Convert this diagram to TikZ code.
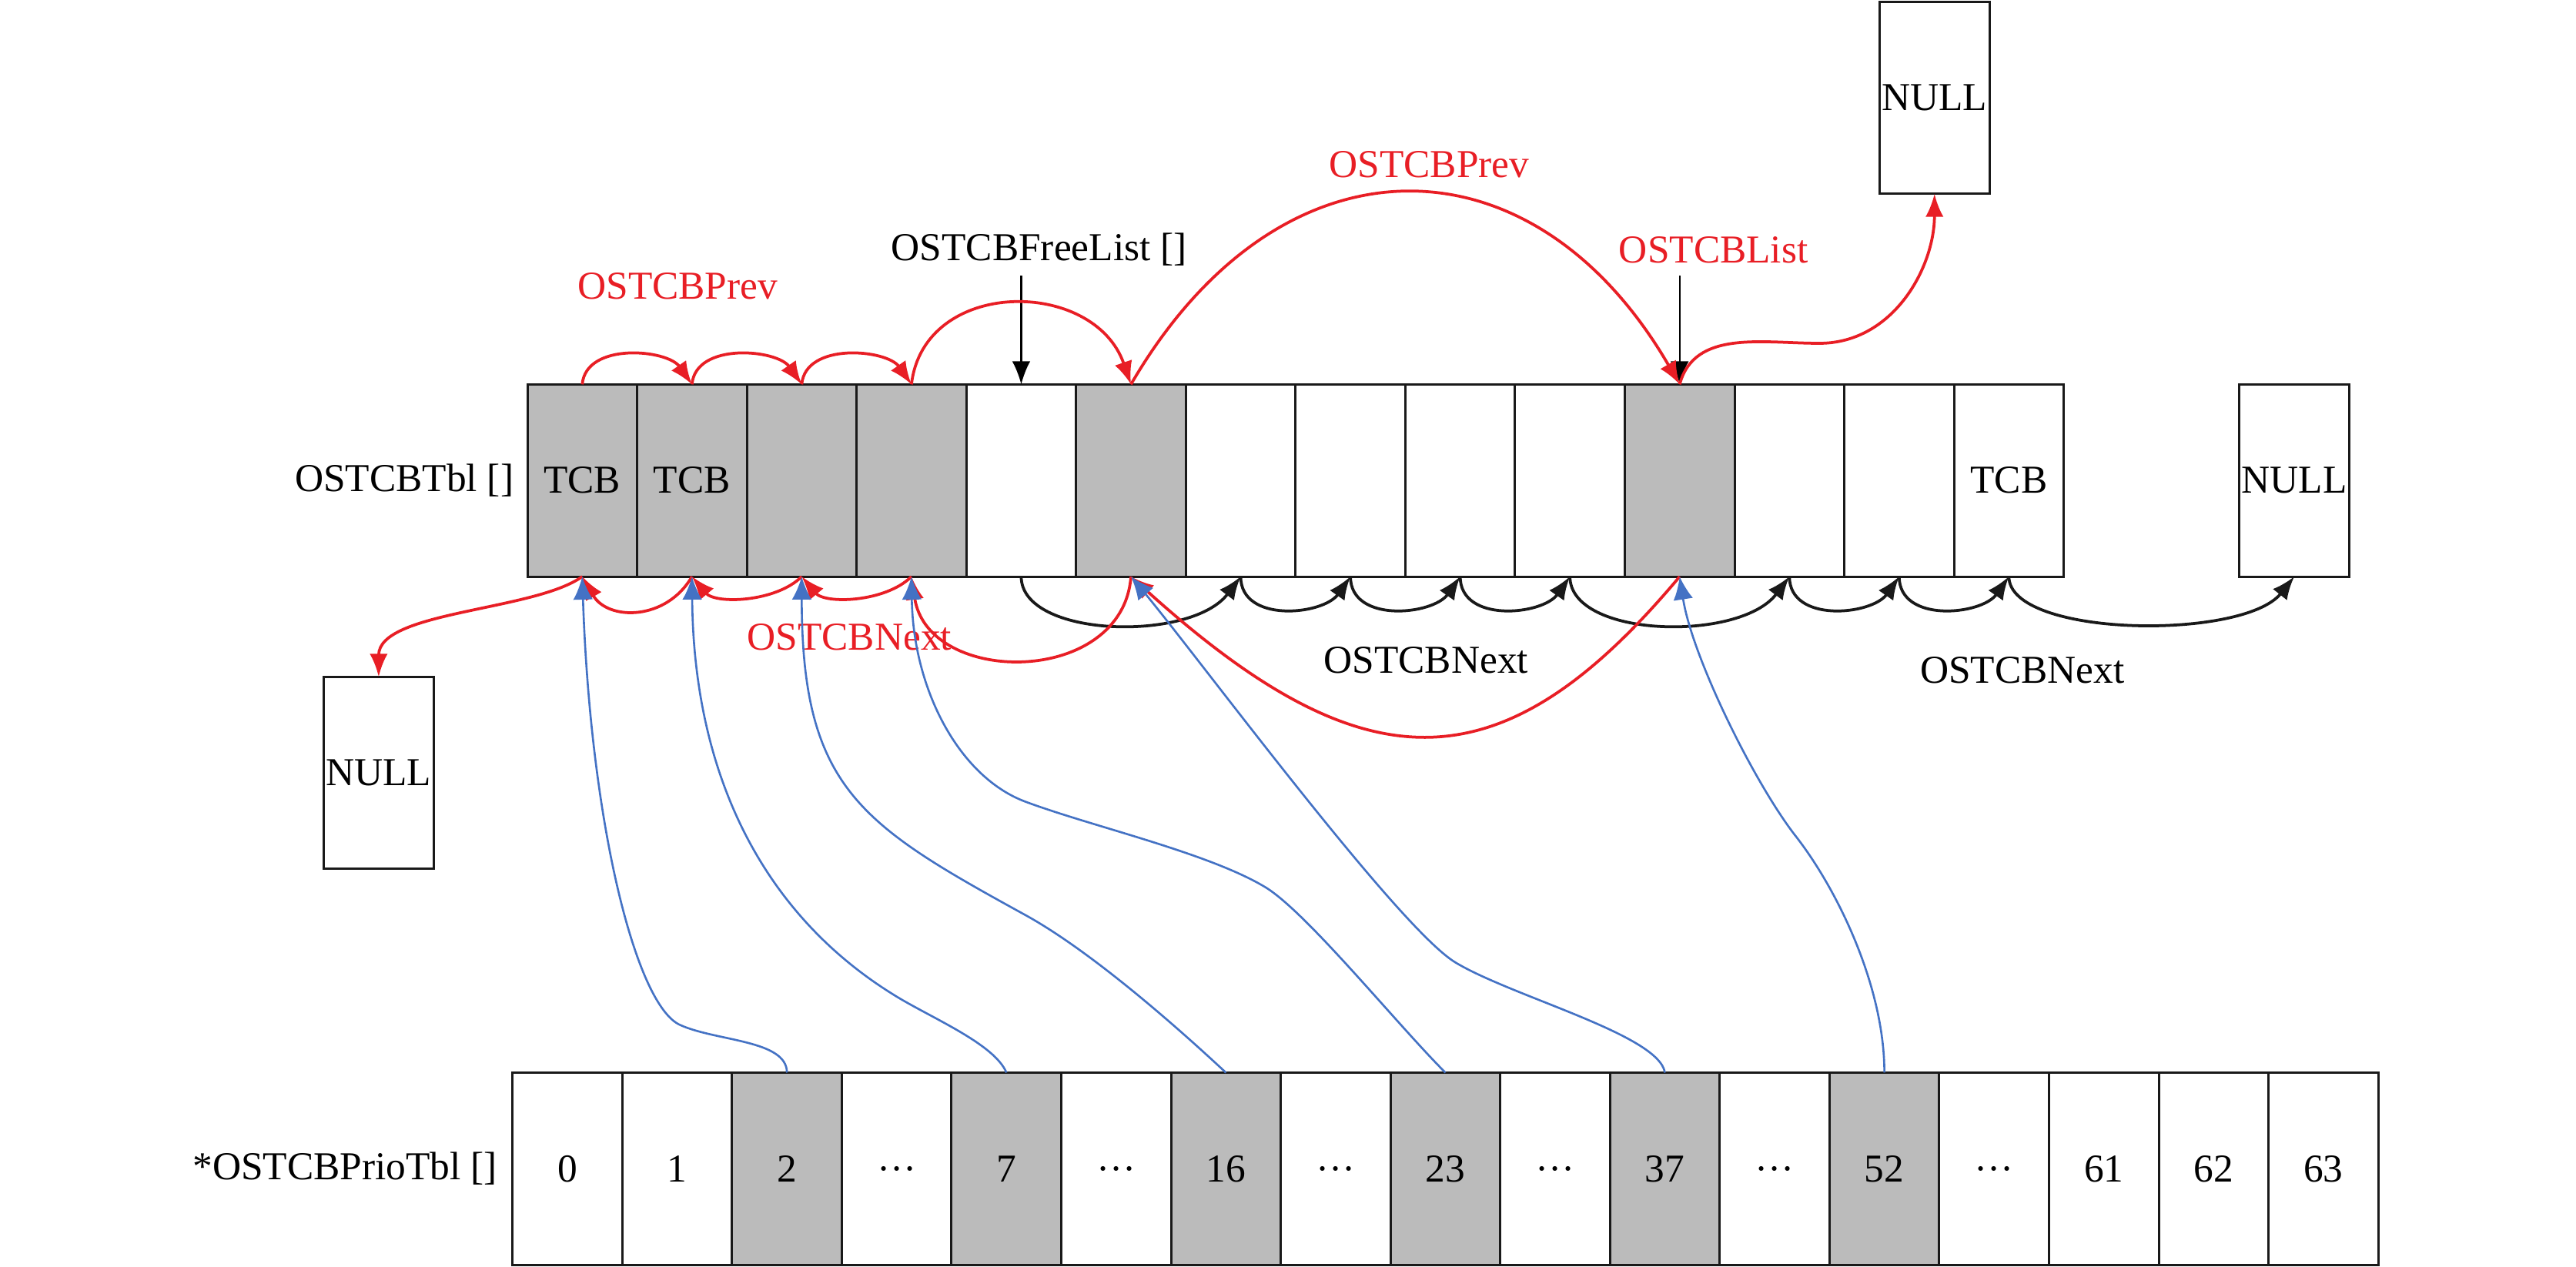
\documentclass[tikz,border=0pt]{standalone}
\usepackage{fontspec}
\setmainfont{Liberation Serif}
\usetikzlibrary{arrows.meta,positioning}
\definecolor{cellgray}{RGB}{187,187,187}
\definecolor{linkred}{RGB}{232,30,37}
\definecolor{linkblue}{RGB}{68,114,196}
\newcommand\rowdots{\vphantom{0}\textperiodcentered\textperiodcentered\textperiodcentered}

\begin{document}
\begin{tikzpicture}[
  font=\fontsize{13.7}{16}\selectfont,
  cell/.style={draw=black!90, line width=0.8pt, minimum width=1.336cm,
    minimum height=2.34cm, inner sep=0pt, outer sep=0pt},
  used/.style={cell, fill=cellgray},
  lbl/.style={inner sep=0pt},
  redarr/.style={-{Latex[length=2.8mm,width=2.2mm]}, linkred, line width=1pt},
  blkarr/.style={-{Latex[length=2.8mm,width=2.2mm]}, black!90, line width=1pt},
  bluearr/.style={-{Latex[length=2.8mm,width=2.4mm]}, linkblue, line width=0.7pt},
  ptr/.style={-{Latex[length=2.8mm,width=2.2mm]}, black, line width=0.6pt}
]
\useasboundingbox (0,0) rectangle (31.36,-15.42);

% OSTCBTbl[]
\foreach \i/\txt/\sty in {0/TCB/used,1/TCB/used,2//used,3//used,4//cell,5//used,
    6//cell,7//cell,8//cell,9//cell,10//used,11//cell,12//cell,13/TCB/cell}
  \node[\sty] (t\i) at ({6.42+1.336*(\i+0.5)},-5.85) {\txt};
\node[lbl, left=0.16cm of t0] (tbllbl) {OSTCBTbl []};

% OSTCBPrioTbl[]
\foreach \i/\txt/\sty in {0/0/cell,1/1/cell,2/2/used,3/\rowdots/cell,4/7/used,
    5/\rowdots/cell,6/16/used,7/\rowdots/cell,8/23/used,9/\rowdots/cell,10/37/used,
    11/\rowdots/cell,12/52/used,13/\rowdots/cell,14/61/cell,15/62/cell,16/63/cell}
  \node[\sty] (p\i) at ({6.24+1.336*(\i+0.5)},-14.23) {\txt};
\node[lbl, left=0.18cm of p0] (priolbl) {*OSTCBPrioTbl []};

% NULL ends
\node[cell] (nullT) at (23.55,-1.19) {NULL};
\node[cell] (nullR) at (27.93,-5.85) {NULL};
\node[cell] (nullL) at (4.61,-9.41) {NULL};

% labels
\node[lbl, text=linkred] (prevA) at (8.25,-3.48) {OSTCBPrev};
\node[lbl, text=linkred] (prevB) at (17.40,-2.00) {OSTCBPrev};
\node[lbl] (freelbl) at (12.65,-3.04) {OSTCBFreeList []};
\node[lbl, text=linkred] (listlbl) at (20.86,-3.04) {OSTCBList};
\node[lbl, text=linkred] (nextA) at (10.34,-7.76) {OSTCBNext};
\node[lbl] (nextB) at (17.36,-8.04) {OSTCBNext};
\node[lbl] (nextC) at (24.62,-8.16) {OSTCBNext};

% list heads
\coordinate (freehead) at ([yshift=1.32cm]t4.north);
\coordinate (listhead) at ([yshift=1.32cm]t10.north);
\draw[ptr] (freehead) -- (t4.north);
\draw[ptr] (listhead) -- (t10.north);

% free list (OSTCBNext)
\draw[blkarr] (t4.south) .. controls +(0,-0.75) and +(-0.6,-0.8) .. (t6.south);
\draw[blkarr] (t9.south) .. controls +(0,-0.75) and +(-0.6,-0.8) .. (t11.south);
\foreach \a/\b in {6/7,7/8,8/9,11/12,12/13}
  \draw[blkarr] (t\a.south) to[out=-90,in=-125,looseness=1.1] (t\b.south);
\draw[blkarr] (t13.south) .. controls +(0,-0.74) and +(-0.62,-0.78) .. (nullR.south);

% used list: OSTCBPrev
\foreach \a/\b in {0/1,1/2,2/3}
  \draw[redarr] (t\a.north) to[out=85,in=125] (t\b.north);
\draw[redarr] (t3.north) .. controls +(0.15,1.3) and +(-0.45,1.3) .. (t5.north);
\draw[redarr] (t5.north) .. controls +(1.8,3.1) and +(-1.8,3.1) .. (t10.north);
\draw[redarr] (t10.north) to[out=75,in=180] ++(1.7,0.5) to[out=0,in=-90] (nullT.south);

% used list: OSTCBNext
\draw[redarr] (t0.south) .. controls +(-0.58,-0.42) and +(0,0.8) .. (nullL.north);
\draw[redarr] (t1.south) to[out=-120,in=-60,looseness=1.2] (t0.south);
\foreach \a/\b in {2/1,3/2}
  \draw[redarr] (t\a.south) to[out=-135,in=-50,looseness=0.85] (t\b.south);
\draw[redarr] (t5.south) .. controls +(-0.1,-1.34) and +(0.2,-1.34) .. (t3.south);
\draw[redarr] (t10.south) .. controls +(-2.16,-2.58) and +(2.86,-2.58) .. (t5.south);

% priority table pointers
\draw[bluearr] (p2.north) .. controls +(0,0.4) and +(0.44,-0.2) .. (8.28,-12.48)
  .. controls +(-0.54,0.24) and +(0.1,-3.0) .. (t0.south);
\draw[bluearr] (p4.north) .. controls +(-0.15,0.36) and +(0.44,-0.28) .. (10.86,-12.10)
  .. controls +(-1.6,1.0) and +(0.02,-2.38) .. (t1.south);
\draw[bluearr] (p6.north) .. controls +(-0.6,0.56) and +(0.8,-0.44) .. (12.48,-11.14)
  .. controls +(-2.0,1.1) and +(0,-2.58) .. (t2.south);
\draw[bluearr] (p8.north) .. controls +(-0.6,0.6) and +(0.5,-0.3) .. (15.40,-10.80)
  .. controls +(-0.7,0.42) and +(0.8,-0.3) .. (12.48,-9.76)
  .. controls +(-0.8,0.3) and +(0.02,-1.38) .. (t3.south);
\draw[bluearr] (p10.north) .. controls +(-0.07,0.46) and +(0.7,-0.42) .. (17.72,-11.72)
  .. controls +(-0.7,0.42) and +(0.8,-0.96) .. (t5.south);
\draw[bluearr] (p12.north) .. controls +(0,1.06) and +(0.5,-0.64) .. (21.86,-10.18)
  .. controls +(-0.5,0.64) and +(0.15,-0.98) .. (t10.south);

\end{tikzpicture}
\end{document}
